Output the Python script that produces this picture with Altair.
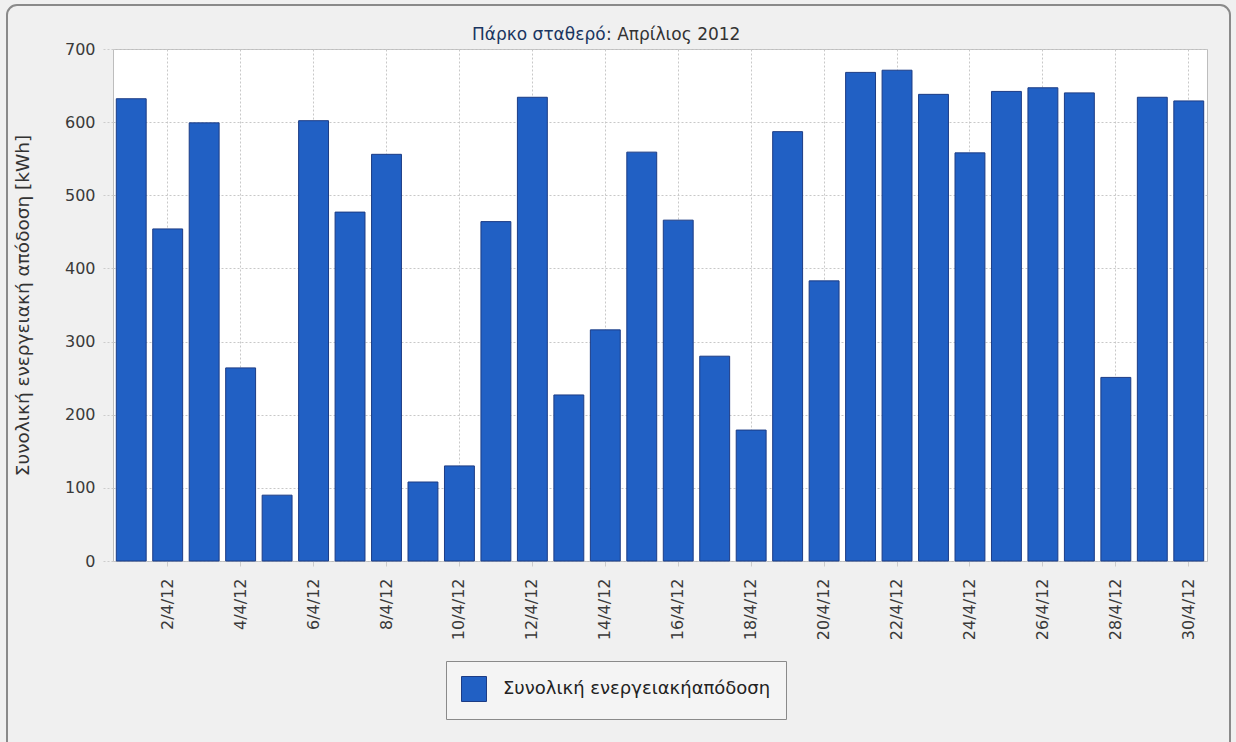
import altair as alt
import pandas as pd

days = [f"{d}/4/12" for d in range(1, 31)]
energy = [632, 454, 599, 264, 90, 602, 477, 556, 108, 130,
          464, 634, 227, 316, 559, 466, 280, 179, 587, 383,
          668, 671, 638, 558, 642, 647, 640, 251, 634, 629]
tick_days = [f"{d}/4/12" for d in range(2, 31, 2)]
y_ticks = [0, 100, 200, 300, 400, 500, 600, 700]
series_name = "Συνολική ενεργειακήαπόδοση"

df = pd.DataFrame({"day": days, "energy": energy, "series": [series_name] * len(days)})

W, H = 1094, 512
FONT = "DejaVu Sans"

bars = alt.Chart(df).mark_bar(stroke="#1c3c85", strokeWidth=1).encode(
    x=alt.X("day:N", sort=days,
            scale=alt.Scale(paddingInner=0.18, paddingOuter=0.09),
            axis=alt.Axis(values=tick_days, title=None, labelAngle=270,
                          labelAlign="right", labelBaseline="middle",
                          labelPadding=12, labelFontSize=16, labelFont=FONT,
                          labelColor="#3a3a3a", tickSize=5, tickColor="#cccccc",
                          domain=False, grid=True, gridDash=[2, 2],
                          gridColor="#c8c8c8")),
    y=alt.Y("energy:Q", scale=alt.Scale(domain=[0, 700], nice=False),
            axis=alt.Axis(values=y_ticks, title="Συνολική ενεργειακή απόδοση [kWh]",
                          titleFont=FONT, titleFontSize=18.5, titleFontWeight="normal",
                          titleColor="#333333", titleX=-91, titleY=H / 2,
                          titleBaseline="middle",
                          labelFontSize=16, labelFont=FONT, labelColor="#3a3a3a",
                          labelPadding=6, tickSize=12, tickDash=[2, 2],
                          tickColor="#cccccc", domain=False, grid=True,
                          gridDash=[2, 2], gridColor="#c8c8c8")),
    color=alt.Color("series:N", scale=alt.Scale(range=["#2160c4"]),
                    legend=alt.Legend(title=None, orient="none", legendX=333,
                                      legendY=612, direction="horizontal",
                                      strokeColor="#8a8a8a", fillColor="#f4f4f4",
                                      padding=15, symbolType="square",
                                      symbolSize=625, symbolStrokeColor="#1c3c85",
                                      symbolStrokeWidth=1, labelFontSize=18,
                                      labelFont=FONT, labelColor="#222222",
                                      labelLimit=500, labelOffset=16)),
)

one = pd.DataFrame({"a": [0]})
frame = alt.Chart(one).mark_rect(fillOpacity=0, stroke="#8a8a8a", strokeWidth=2,
                                 cornerRadius=10).encode(
    x=alt.value(-106), x2=alt.value(1117), y=alt.value(-44), y2=alt.value(705))

title_a = alt.Chart(pd.DataFrame({"t": ["Πάρκο σταθερό"]})).mark_text(
    align="left", baseline="middle", font=FONT, fontSize=17,
    color="#1a3560").encode(text="t:N", x=alt.value(359), y=alt.value(-14))
title_b = alt.Chart(pd.DataFrame({"t": [": Απρίλιος 2012"]})).mark_text(
    align="left", baseline="middle", font=FONT, fontSize=17,
    color="#333333").encode(text="t:N", x=alt.value(493), y=alt.value(-14))

chart = alt.layer(frame, bars, title_a, title_b).properties(
    width=W, height=H,
    autosize=alt.AutoSizeParams(type="none"),
    padding={"left": 113, "top": 49, "right": 29, "bottom": 181},
    background="#f0f0f0",
).configure_view(fill="#ffffff", stroke="#bdbdbd", strokeWidth=1)

chart.save("out.html", embed_options={"renderer": "svg", "actions": False})
